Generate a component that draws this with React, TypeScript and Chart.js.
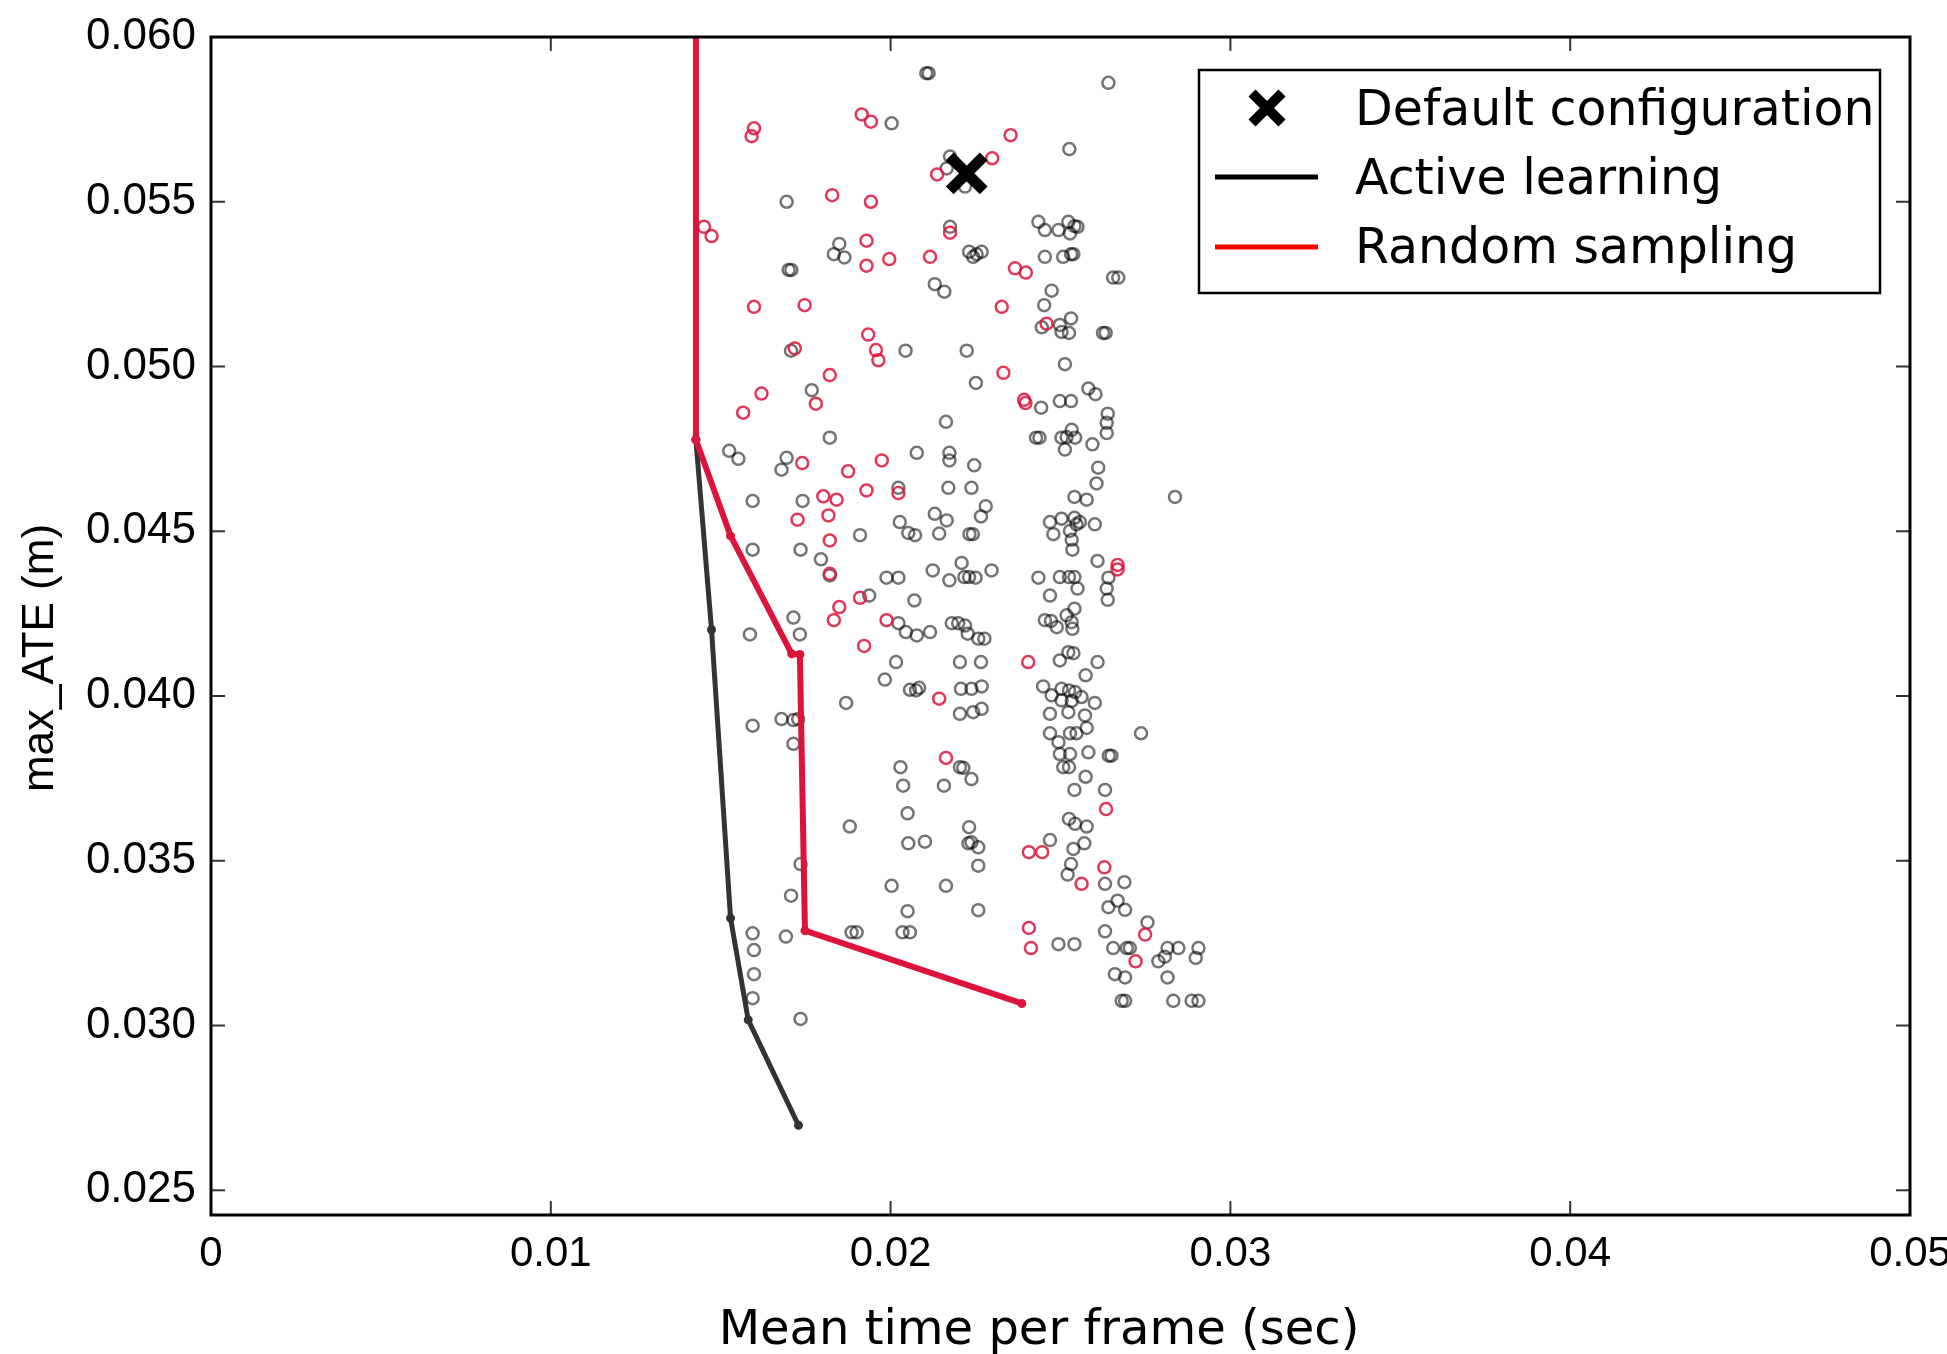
import React, { useEffect, useRef } from 'react';
import { Chart, registerables } from 'chart.js';

Chart.register(...registerables);

const CANVAS_W = 1947;
const CANVAS_H = 1354;

// axis ranges and ticks
const xRange = [0, 0.05];
const yRange = [0.02425, 0.06];
const xTickValues = [0, 0.01, 0.02, 0.03, 0.04, 0.05];
const xTickLabels = ['0', '0.01', '0.02', '0.03', '0.04', '0.05'];
const yTickValues = [0.025, 0.03, 0.035, 0.04, 0.045, 0.05, 0.055, 0.06];
const yTickLabels = ['0.025', '0.030', '0.035', '0.040', '0.045', '0.050', '0.055', '0.060'];

const xTitle = 'Mean time per frame (sec)';
const yTitle = 'max_ATE (m)';
const legendLabels = ['Default configuration', 'Active learning', 'Random sampling'];

// default configuration [time, ATE]
const defaultConfig: [number, number][] = [[0.02224, 0.05586]];

// best-so-far curves
const randomCurve: [number, number][] = [
  [0.01427, 0.065], [0.01427, 0.04778], [0.01529, 0.04486], [0.01709, 0.04128],
  [0.01733, 0.04126], [0.01748, 0.03288], [0.02386, 0.03067],
];
const activeCurve: [number, number][] = [
  [0.01427, 0.065], [0.01427, 0.04778], [0.01473, 0.04201], [0.01529, 0.03326],
  [0.01581, 0.03017], [0.01729, 0.02697],
];

// configurations sampled by random sampling
const randomSamples: [number, number][] = [
  [0.01915, 0.05765], [0.01942, 0.05743], [0.01598, 0.05723], [0.01591, 0.05699], [0.02137, 0.05583],
  [0.01828, 0.05520], [0.01942, 0.05500], [0.01451, 0.05424], [0.01473, 0.05396], [0.02175, 0.05406],
  [0.01929, 0.05382], [0.01929, 0.05306], [0.01996, 0.05326], [0.02116, 0.05333], [0.01598, 0.05181],
  [0.01747, 0.05186], [0.01934, 0.05097], [0.01957, 0.05050], [0.01964, 0.05019], [0.01718, 0.05055],
  [0.01821, 0.04974], [0.02353, 0.05702], [0.02299, 0.05632], [0.02366, 0.05298], [0.02398, 0.05285],
  [0.02327, 0.05181], [0.02459, 0.05130], [0.02332, 0.04981], [0.01620, 0.04918], [0.01566, 0.04860],
  [0.01780, 0.04887], [0.01740, 0.04707], [0.01875, 0.04682], [0.01974, 0.04715], [0.01929, 0.04624],
  [0.02023, 0.04616], [0.01802, 0.04606], [0.01841, 0.04596], [0.01817, 0.04548], [0.01726, 0.04535],
  [0.01821, 0.04472], [0.01821, 0.04371], [0.01910, 0.04298], [0.01849, 0.04270], [0.01833, 0.04230],
  [0.01988, 0.04230], [0.01922, 0.04152], [0.02143, 0.03992], [0.02393, 0.04899], [0.02397, 0.04889],
  [0.02668, 0.04398], [0.02668, 0.04384], [0.02405, 0.04103], [0.02163, 0.03812], [0.02634, 0.03657],
  [0.02407, 0.03526], [0.02446, 0.03526], [0.02562, 0.03430], [0.02629, 0.03480], [0.02749, 0.03276],
  [0.02407, 0.03296], [0.02413, 0.03235], [0.02721, 0.03195],
];

// configurations sampled by active learning
const activeSamples: [number, number][] = [
  [0.02105, 0.05890], [0.02112, 0.05890], [0.02003, 0.05738], [0.02175, 0.05637], [0.02165, 0.05601],
  [0.01694, 0.05500], [0.02175, 0.05424], [0.01849, 0.05372], [0.01833, 0.05341], [0.01864, 0.05331],
  [0.01700, 0.05293], [0.01708, 0.05293], [0.02130, 0.05250], [0.02158, 0.05227], [0.02044, 0.05048],
  [0.01707, 0.05048],
  [0.02219, 0.05546], [0.02641, 0.05861], [0.02526, 0.05660], [0.02435, 0.05439], [0.02454, 0.05414],
  [0.02494, 0.05414], [0.02523, 0.05439], [0.02541, 0.05426], [0.02528, 0.05404], [0.02550, 0.05424],
  [0.02231, 0.05348], [0.02253, 0.05341], [0.02268, 0.05348], [0.02243, 0.05333], [0.02454, 0.05333],
  [0.02508, 0.05333], [0.02531, 0.05341], [0.02538, 0.05341], [0.02655, 0.05270], [0.02670, 0.05270],
  [0.02474, 0.05230], [0.02452, 0.05186], [0.02445, 0.05119], [0.02531, 0.05146], [0.02503, 0.05105],
  [0.02525, 0.05102], [0.02498, 0.05126], [0.02625, 0.05102], [0.02633, 0.05102], [0.02224, 0.05048],
  [0.02251, 0.04950], [0.02513, 0.05007],
  [0.01768, 0.04928], [0.01821, 0.04784], [0.01525, 0.04744], [0.01552, 0.04720], [0.01694, 0.04723],
  [0.01679, 0.04687], [0.02023, 0.04632], [0.02077, 0.04738], [0.02163, 0.04832], [0.02173, 0.04738],
  [0.02173, 0.04715], [0.02170, 0.04632], [0.01594, 0.04592], [0.01741, 0.04592], [0.01910, 0.04488],
  [0.02027, 0.04528], [0.02052, 0.04495], [0.02072, 0.04488], [0.02130, 0.04553], [0.02165, 0.04533],
  [0.02143, 0.04493], [0.01594, 0.04444], [0.01735, 0.04444], [0.01795, 0.04415], [0.01821, 0.04366],
  [0.01988, 0.04359], [0.02023, 0.04359], [0.02124, 0.04381], [0.02173, 0.04351], [0.01937, 0.04305],
  [0.02070, 0.04290], [0.02023, 0.04221], [0.02045, 0.04194], [0.02077, 0.04184], [0.02116, 0.04194],
  [0.02180, 0.04221], [0.01714, 0.04238], [0.01733, 0.04187], [0.01586, 0.04187], [0.02016, 0.04103],
  [0.01983, 0.04050], [0.02057, 0.04019], [0.02084, 0.04025], [0.02075, 0.04017], [0.01869, 0.03979],
  [0.02582, 0.04933], [0.02603, 0.04916], [0.02443, 0.04875], [0.02498, 0.04895], [0.02531, 0.04895],
  [0.02639, 0.04857], [0.02636, 0.04829], [0.02636, 0.04798], [0.02428, 0.04784], [0.02438, 0.04784],
  [0.02518, 0.04786], [0.02533, 0.04808], [0.02513, 0.04748], [0.02503, 0.04784], [0.02543, 0.04784],
  [0.02594, 0.04764], [0.02246, 0.04700], [0.02611, 0.04693], [0.02606, 0.04645], [0.02238, 0.04632],
  [0.02541, 0.04604], [0.02577, 0.04596], [0.02837, 0.04604], [0.02280, 0.04576], [0.02266, 0.04545],
  [0.02232, 0.04491], [0.02242, 0.04491], [0.02469, 0.04528], [0.02503, 0.04538], [0.02541, 0.04541],
  [0.02547, 0.04521], [0.02557, 0.04528], [0.02528, 0.04501], [0.02479, 0.04491], [0.02533, 0.04474],
  [0.02535, 0.04444], [0.02601, 0.04521], [0.02609, 0.04410], [0.02641, 0.04359], [0.02636, 0.04326],
  [0.02639, 0.04292], [0.02209, 0.04404], [0.02217, 0.04361], [0.02231, 0.04361], [0.02250, 0.04359],
  [0.02297, 0.04381], [0.02435, 0.04359], [0.02498, 0.04361], [0.02525, 0.04361], [0.02541, 0.04361],
  [0.02550, 0.04326], [0.02469, 0.04305], [0.02541, 0.04265], [0.02518, 0.04245], [0.02533, 0.04224],
  [0.02535, 0.04204], [0.02489, 0.04209], [0.02454, 0.04230], [0.02472, 0.04228], [0.02199, 0.04221],
  [0.02219, 0.04214], [0.02227, 0.04189], [0.02258, 0.04174], [0.02276, 0.04174], [0.02204, 0.04103],
  [0.02266, 0.04103], [0.02498, 0.04108], [0.02523, 0.04133], [0.02538, 0.04130], [0.02609, 0.04103],
  [0.02574, 0.04063], [0.02207, 0.04022], [0.02238, 0.04022], [0.02268, 0.04029], [0.02449, 0.04029],
  [0.02474, 0.04002], [0.02503, 0.04022], [0.02525, 0.04017], [0.02543, 0.04012], [0.02503, 0.03987],
  [0.02533, 0.03985], [0.02562, 0.03997], [0.02601, 0.03979], [0.02469, 0.03946], [0.02523, 0.03951],
  [0.02572, 0.03941], [0.02204, 0.03946], [0.02243, 0.03951], [0.02268, 0.03961],
  [0.01594, 0.03910], [0.01679, 0.03930], [0.01714, 0.03927], [0.01728, 0.03930], [0.01714, 0.03855],
  [0.02029, 0.03784], [0.02037, 0.03728], [0.02157, 0.03728], [0.02050, 0.03644], [0.01880, 0.03604],
  [0.02052, 0.03553], [0.02101, 0.03558], [0.01735, 0.03490], [0.01707, 0.03394], [0.02003, 0.03424],
  [0.02163, 0.03424], [0.02050, 0.03347], [0.01594, 0.03280], [0.01598, 0.03229], [0.01598, 0.03156],
  [0.01594, 0.03083], [0.01692, 0.03270], [0.01885, 0.03283], [0.01900, 0.03283], [0.02035, 0.03283],
  [0.02057, 0.03283], [0.01735, 0.03020],
  [0.02469, 0.03887], [0.02494, 0.03860], [0.02528, 0.03887], [0.02547, 0.03887], [0.02577, 0.03903],
  [0.02498, 0.03824], [0.02528, 0.03824], [0.02582, 0.03829], [0.02508, 0.03784], [0.02525, 0.03784],
  [0.02642, 0.03819], [0.02650, 0.03819], [0.02737, 0.03887], [0.02204, 0.03784], [0.02214, 0.03782],
  [0.02238, 0.03748], [0.02574, 0.03755], [0.02541, 0.03715], [0.02631, 0.03715], [0.02231, 0.03602],
  [0.02238, 0.03556], [0.02229, 0.03553], [0.02258, 0.03541], [0.02258, 0.03485], [0.02258, 0.03350],
  [0.02469, 0.03563], [0.02525, 0.03627], [0.02543, 0.03612], [0.02577, 0.03604], [0.02570, 0.03553],
  [0.02538, 0.03536], [0.02531, 0.03490], [0.02521, 0.03458], [0.02631, 0.03430], [0.02688, 0.03435],
  [0.02668, 0.03379], [0.02641, 0.03359], [0.02690, 0.03351], [0.02756, 0.03313], [0.02631, 0.03286],
  [0.02494, 0.03247], [0.02541, 0.03247], [0.02655, 0.03235], [0.02695, 0.03235], [0.02704, 0.03235],
  [0.02788, 0.03195], [0.02807, 0.03209], [0.02815, 0.03235], [0.02847, 0.03235], [0.02906, 0.03235],
  [0.02898, 0.03205], [0.02660, 0.03156], [0.02690, 0.03146], [0.02815, 0.03146], [0.02680, 0.03075],
  [0.02690, 0.03075], [0.02832, 0.03075], [0.02886, 0.03075], [0.02906, 0.03075],
];

const CRIMSON = 'rgb(220,20,60)';
const toPts = (arr: [number, number][]) => arr.map(([x, y]) => ({ x, y }));

const decorPlugin = {
  id: 'decor',
  afterDraw(chart: any) {
    const { ctx, chartArea: a, scales } = chart;
    ctx.save();
    // inward ticks on all four sides
    ctx.strokeStyle = '#333';
    ctx.lineWidth = 2;
    const seg = (x1: number, y1: number, x2: number, y2: number) => {
      ctx.beginPath();
      ctx.moveTo(x1, y1);
      ctx.lineTo(x2, y2);
      ctx.stroke();
    };
    const TL = 14;
    scales.x.ticks.forEach((t: any) => {
      const px = scales.x.getPixelForValue(t.value);
      seg(px, a.bottom, px, a.bottom - TL);
      seg(px, a.top, px, a.top + TL);
    });
    scales.y.ticks.forEach((t: any) => {
      const py = scales.y.getPixelForValue(t.value);
      seg(a.left, py, a.left + TL, py);
      seg(a.right, py, a.right - TL, py);
    });
    // frame
    ctx.strokeStyle = '#000';
    ctx.lineWidth = 3;
    ctx.strokeRect(a.left, a.top, a.right - a.left, a.bottom - a.top);

    // legend
    const lx = 1199, ly = 70, lw = 681, lh = 223;
    ctx.fillStyle = '#fff';
    ctx.fillRect(lx, ly, lw, lh);
    ctx.strokeStyle = '#000';
    ctx.lineWidth = 2.5;
    ctx.strokeRect(lx, ly, lw, lh);
    // cross
    ctx.lineWidth = 10;
    const cx = 1267, cy = 108, r = 15;
    seg(cx - r, cy - r, cx + r, cy + r);
    seg(cx - r, cy + r, cx + r, cy - r);
    // lines
    ctx.lineWidth = 5;
    ctx.strokeStyle = '#000';
    seg(1215, 177, 1318, 177);
    ctx.strokeStyle = '#ff0000';
    seg(1215, 247, 1318, 247);
    ctx.fillStyle = '#000';
    ctx.font = '49px "DejaVu Sans"';
    ctx.textAlign = 'left';
    ctx.textBaseline = 'alphabetic';
    ctx.fillText(legendLabels[0], 1355, 125);
    ctx.fillText(legendLabels[1], 1355, 194);
    ctx.fillText(legendLabels[2], 1355, 263);

    // axis titles
    ctx.font = '48px "DejaVu Sans"';
    ctx.textAlign = 'center';
    ctx.fillText(xTitle, 1039, 1344);
    ctx.save();
    ctx.translate(41, 658);
    ctx.rotate(-Math.PI / 2);
    ctx.font = '44px "Liberation Sans"';
    ctx.textBaseline = 'middle';
    ctx.fillText(yTitle, 0, 0);
    ctx.restore();
    ctx.restore();
  },
};

export default function App() {
  const ref = useRef<HTMLCanvasElement | null>(null);
  useEffect(() => {
    if (!ref.current) return;
    const chart = new Chart(ref.current, {
      type: 'scatter',
      data: {
        datasets: [
          {
            label: legendLabels[0],
            data: toPts(defaultConfig),
            pointStyle: 'crossRot',
            pointRadius: 24,
            borderWidth: 11,
            borderColor: '#000',
            backgroundColor: '#000',
          } as any,
          {
            type: 'line',
            label: legendLabels[2],
            data: toPts(randomCurve),
            borderColor: CRIMSON,
            borderWidth: 6,
            pointRadius: 4.5,
            pointBackgroundColor: CRIMSON,
            pointBorderWidth: 0,
            tension: 0,
            fill: false,
          } as any,
          {
            type: 'line',
            label: legendLabels[1],
            data: toPts(activeCurve),
            borderColor: '#333',
            borderWidth: 5,
            pointRadius: 4.5,
            pointBackgroundColor: '#333',
            pointBorderWidth: 0,
            tension: 0,
            fill: false,
          } as any,
          {
            label: 'random samples',
            data: toPts(randomSamples),
            pointStyle: 'circle',
            pointRadius: 6,
            borderWidth: 2.5,
            borderColor: 'rgba(220,20,60,0.85)',
            backgroundColor: 'rgba(0,0,0,0)',
          } as any,
          {
            label: 'active samples',
            data: toPts(activeSamples),
            pointStyle: 'circle',
            pointRadius: 6,
            borderWidth: 2.5,
            borderColor: 'rgba(0,0,0,0.55)',
            backgroundColor: 'rgba(0,0,0,0)',
          } as any,
        ],
      },
      options: {
        responsive: false,
        animation: false,
        devicePixelRatio: 1,
        layout: { padding: { left: 0, top: 37, right: 37, bottom: 0 } },
        plugins: { legend: { display: false }, tooltip: { enabled: false } },
        scales: {
          x: {
            type: 'linear',
            min: xRange[0],
            max: xRange[1],
            grid: { display: false, drawTicks: false },
            border: { display: false },
            ticks: {
              color: '#000',
              font: { family: 'Liberation Sans', size: 42 },
              padding: 14,
              maxRotation: 0,
              callback: (_v: any, i: number) => xTickLabels[i],
            },
            afterBuildTicks: (s: any) => {
              s.ticks = xTickValues.map((v) => ({ value: v }));
            },
            afterFit: (s: any) => {
              s.height = 139;
              s.paddingLeft = 0;
              s.paddingRight = 0;
            },
          },
          y: {
            type: 'linear',
            min: yRange[0],
            max: yRange[1],
            grid: { display: false, drawTicks: false },
            border: { display: false },
            ticks: {
              color: '#000',
              font: { family: 'Liberation Sans', size: 44 },
              padding: 15,
              callback: (_v: any, i: number) => yTickLabels[i],
            },
            afterBuildTicks: (s: any) => {
              s.ticks = yTickValues.map((v) => ({ value: v }));
            },
            afterFit: (s: any) => {
              s.width = 211;
              s.paddingTop = 0;
              s.paddingBottom = 0;
            },
          },
        },
      },
      plugins: [decorPlugin],
    });
    return () => chart.destroy();
  }, []);
  return (
    <canvas
      ref={ref}
      width={CANVAS_W}
      height={CANVAS_H}
      style={{ position: 'fixed', left: 0, top: 0, display: 'block', background: '#fff' }}
    />
  );
}
